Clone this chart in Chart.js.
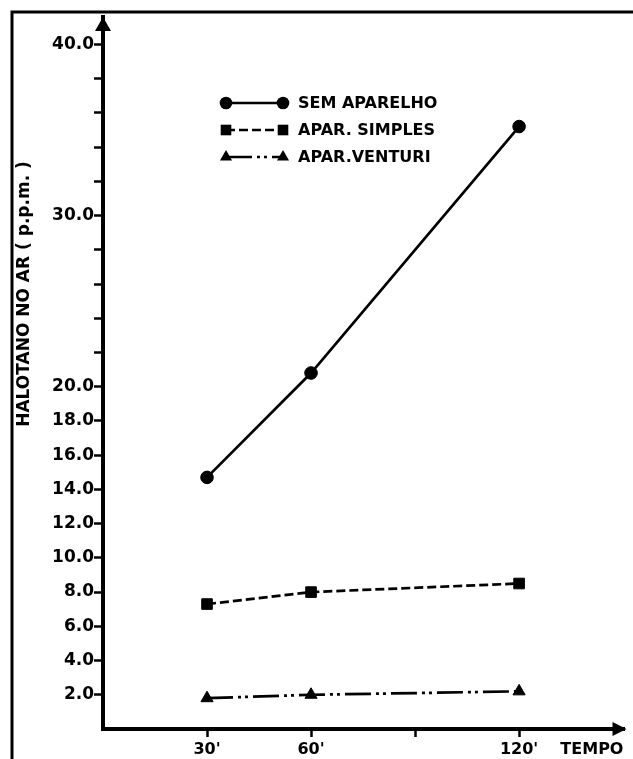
<!DOCTYPE html>
<html>
<head>
<meta charset="utf-8">
<script src="https://cdn.jsdelivr.net/npm/chart.js@4.4.1/dist/chart.umd.min.js"></script>
<style>
  html, body { margin: 0; padding: 0; background: #fff; }
  #wrap { width: 633px; height: 759px; }
</style>
</head>
<body>
<div id="wrap"><canvas id="halotano" width="633" height="759"></canvas></div>
<script>
'use strict';
(function () {
    // tempo (min) x halotano no ar (p.p.m.)
    var tempos = [30, 60, 120];
    var semAparelho = [14.7, 20.8, 35.2];
    var aparSimples = [7.3, 8.0, 8.5];
    var aparVenturi = [1.8, 2.0, 2.2];

    var seriesNames = ['SEM APARELHO', 'APAR. SIMPLES', 'APAR.VENTURI'];

    var yTicks = [2, 4, 6, 8, 10, 12, 14, 16, 18, 20, 22, 24, 26, 28, 30, 32, 34, 36, 38, 40];
    var yLabeled = [2, 4, 6, 8, 10, 12, 14, 16, 18, 20, 30, 40];
    var xTicks = [30, 60, 90, 120];
    var xLabels = ["30'", "60'", '', "120'"];
    var xTitle = 'TEMPO';
    var xTitleAt = 141;
    var yTitle = 'HALOTANO NO AR ( p.p.m. )';

    var FONT = '"DejaVu Sans", "Liberation Sans", sans-serif';
    var ctx = document.getElementById('halotano').getContext('2d');

    function toPoints(ys) {
        return tempos.map(function (t, i) { return { x: t, y: ys[i] }; });
    }

    function drawMarker(c, style, x, y, r) {
        c.beginPath();
        if (style === 'circle') {
            c.arc(x, y, r, 0, Math.PI * 2);
        } else if (style === 'rect') {
            var s = r * Math.SQRT1_2;
            c.rect(x - s, y - s, 2 * s, 2 * s);
        } else {
            c.moveTo(x, y - r);
            c.lineTo(x + r * 0.866, y + r * 0.5);
            c.lineTo(x - r * 0.866, y + r * 0.5);
            c.closePath();
        }
        c.fill();
    }

    // moldura da figura
    var framePlugin = {
        id: 'frame',
        beforeDraw: function (chart) {
            var c = chart.ctx;
            c.save();
            c.strokeStyle = '#000';
            c.lineWidth = 3;
            c.beginPath();
            c.moveTo(12, 759);
            c.lineTo(12, 12);
            c.lineTo(633, 12);
            c.stroke();
            c.restore();
        }
    };

    // setas dos eixos + titulo vertical
    var axesPlugin = {
        id: 'axesArrows',
        afterDraw: function (chart) {
            var a = chart.chartArea, c = chart.ctx;
            var tipX = a.right + 2;
            c.save();
            c.fillStyle = '#000';
            c.beginPath();
            c.moveTo(a.left, a.top);
            c.lineTo(a.left + 8, a.top + 14);
            c.lineTo(a.left - 8, a.top + 14);
            c.closePath();
            c.fill();
            c.beginPath();
            c.moveTo(tipX, a.bottom);
            c.lineTo(tipX - 14, a.bottom - 7);
            c.lineTo(tipX - 14, a.bottom + 7);
            c.closePath();
            c.fill();

            c.translate(25, 294);
            c.rotate(-Math.PI / 2);
            c.font = 'bold 17px ' + FONT;
            c.textAlign = 'center';
            c.textBaseline = 'middle';
            c.fillText(yTitle, 0, 0);
            c.restore();
        }
    };

    var legendBox = { x1: 226, x2: 283, textX: 298, y0: 103, step: 27 };
    var legendPlugin = {
        id: 'innerLegend',
        afterDatasetsDraw: function (chart) {
            var c = chart.ctx;
            c.save();
            chart.data.datasets.forEach(function (ds, i) {
                var y = legendBox.y0 + i * legendBox.step;
                c.strokeStyle = '#000';
                c.fillStyle = '#000';
                c.lineWidth = ds.borderWidth;
                c.setLineDash(ds.borderDash || []);
                c.beginPath();
                c.moveTo(legendBox.x1, y);
                c.lineTo(legendBox.x2, y);
                c.stroke();
                c.setLineDash([]);
                drawMarker(c, ds.pointStyle, legendBox.x1, y, ds.pointRadius);
                drawMarker(c, ds.pointStyle, legendBox.x2, y, ds.pointRadius);
                c.font = 'bold 16px ' + FONT;
                c.textAlign = 'left';
                c.textBaseline = 'middle';
                c.fillText(ds.label, legendBox.textX, y + 1);
            });
            c.restore();
        }
    };

    function serie(label, values, style, radius, dash) {
        return {
            label: label,
            data: toPoints(values),
            borderColor: '#000',
            backgroundColor: '#000',
            borderWidth: 2.7,
            borderDash: dash,
            pointStyle: style,
            pointRadius: radius,
            pointHoverRadius: radius,
            pointBackgroundColor: '#000',
            pointBorderColor: '#000',
            pointBorderWidth: 1,
            tension: 0,
            fill: false
        };
    }

    new Chart(ctx, {
        type: 'line',
        data: {
            datasets: [
                serie(seriesNames[0], semAparelho, 'circle', 6.3, []),
                serie(seriesNames[1], aparSimples, 'rect', 7.5, [9, 4]),
                serie(seriesNames[2], aparVenturi, 'triangle', 7, [26, 5, 3, 4, 3, 5])
            ]
        },
        options: {
            responsive: false,
            animation: false,
            events: [],
            layout: { padding: { top: 17, right: 3, left: 0, bottom: 0 } },
            plugins: { legend: { display: false }, tooltip: { enabled: false } },
            scales: {
                x: {
                    type: 'linear',
                    min: 0,
                    max: 150.4,
                    afterFit: function (s) {
                        s.height = 30;
                        s.paddingLeft = 0;
                        s.paddingRight = 0;
                    },
                    afterBuildTicks: function (s) {
                        s.ticks = xTicks.concat([xTitleAt]).map(function (v) { return { value: v }; });
                    },
                    border: { display: true, color: '#000', width: 4 },
                    grid: {
                        drawOnChartArea: false,
                        drawTicks: true,
                        tickLength: 8,
                        tickWidth: 2.5,
                        tickColor: function (c) {
                            return c.tick && c.tick.value === xTitleAt ? 'rgba(0,0,0,0)' : '#000';
                        }
                    },
                    ticks: {
                        autoSkip: false,
                        maxRotation: 0,
                        padding: 3,
                        color: '#000',
                        font: { family: FONT, size: 16, weight: 'bold' },
                        callback: function (v) {
                            if (v === xTitleAt) return xTitle;
                            var i = xTicks.indexOf(v);
                            return i < 0 ? '' : xLabels[i];
                        }
                    }
                },
                y: {
                    type: 'linear',
                    min: 0,
                    max: 41.6,
                    afterFit: function (s) {
                        s.width = 103;
                        s.paddingTop = 0;
                        s.paddingBottom = 0;
                    },
                    afterBuildTicks: function (s) {
                        s.ticks = yTicks.map(function (v) { return { value: v }; });
                    },
                    border: { display: true, color: '#000', width: 4 },
                    grid: {
                        drawOnChartArea: false,
                        drawTicks: true,
                        tickLength: 9,
                        tickWidth: 2.5,
                        tickColor: '#000'
                    },
                    ticks: {
                        autoSkip: false,
                        padding: 0,
                        color: '#000',
                        font: { family: FONT, size: 17, weight: 'bold' },
                        callback: function (v) {
                            return yLabeled.indexOf(v) < 0 ? '' : v.toFixed(1);
                        }
                    }
                }
            }
        },
        plugins: [framePlugin, axesPlugin, legendPlugin]
    });
})();
</script>
</body>
</html>
